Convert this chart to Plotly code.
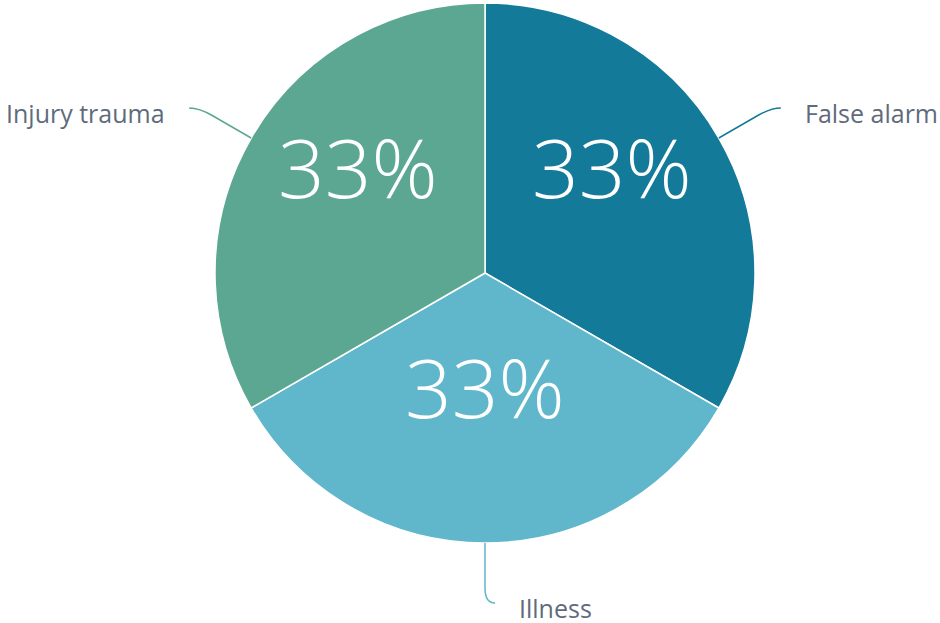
import math
import plotly.graph_objects as go

categories = ["False alarm", "Illness", "Injury trauma"]
values = [1, 1, 1]
colors = ["#137a9a", "#60b7cc", "#5ca792"]

W, H = 940, 623
ML, MR, MT, MB = 30, 0, 3, 80
PW, PH = W - ML - MR, H - MT - MB
R = min(PW, PH) / 2
CX, CY = ML + PW / 2, MT + PH / 2


def to_paper(px, py):
    return (px - ML) / PW, (H - MB - py) / PH


fig = go.Figure(go.Pie(
    labels=categories, values=values, sort=False, direction="clockwise", rotation=0,
    marker=dict(colors=colors, line=dict(color="white", width=1.5)),
    textinfo="none",
    hoverinfo="label+percent", showlegend=False,
    domain=dict(x=[0, 1], y=[0, 1]),
))

total = sum(values)
cum = 0
shapes, annotations = [], []
for cat, v, col in zip(categories, values, colors):
    theta = (cum + v / 2) / total * 2 * math.pi
    cum += v
    dx, dy = math.sin(theta), -math.cos(theta)
    side = 1 if dx >= -1e-9 else -1
    # percent label inside the slice
    tp = to_paper(CX + 0.544 * R * dx, CY + 0.544 * R * dy)
    annotations.append(dict(
        x=tp[0], y=tp[1], xref="paper", yref="paper",
        text="{:.0f}%".format(100 * v / total), showarrow=False,
        xanchor="center", yanchor="middle", yshift=34,
        font=dict(family="Open Sans", size=82, color="white", weight=300),
    ))
    # connector line and outside category label
    e = (CX + R * dx, CY + R * dy)
    m = (CX + (R + 45) * dx, CY + (R + 45) * dy)
    c = (CX + (R + 60) * dx, CY + (R + 60) * dy)
    end = (c[0] + side * 10, c[1])
    pts = [to_paper(*p) for p in (e, m, c, end)]
    path = "M {0[0]},{0[1]} L {1[0]},{1[1]} Q {2[0]},{2[1]} {3[0]},{3[1]}".format(*pts)
    shapes.append(dict(type="path", path=path, xref="paper", yref="paper",
                       line=dict(color=col, width=1.5)))
    annotations.append(dict(
        x=pts[3][0], y=pts[3][1], xref="paper", yref="paper", text=cat, showarrow=False,
        xanchor="left" if side > 0 else "right", yanchor="middle",
        xshift=side * 22, yshift=-5,
        font=dict(family="Open Sans", size=25, color="#5f6b7c"),
    ))

fig.update_layout(
    width=W, height=H, margin=dict(l=ML, r=MR, t=MT, b=MB),
    paper_bgcolor="white", plot_bgcolor="white",
    shapes=shapes, annotations=annotations,
)
fig.write_html("out.html", config={"displayModeBar": False},
               post_script="document.body.style.margin='0';")
